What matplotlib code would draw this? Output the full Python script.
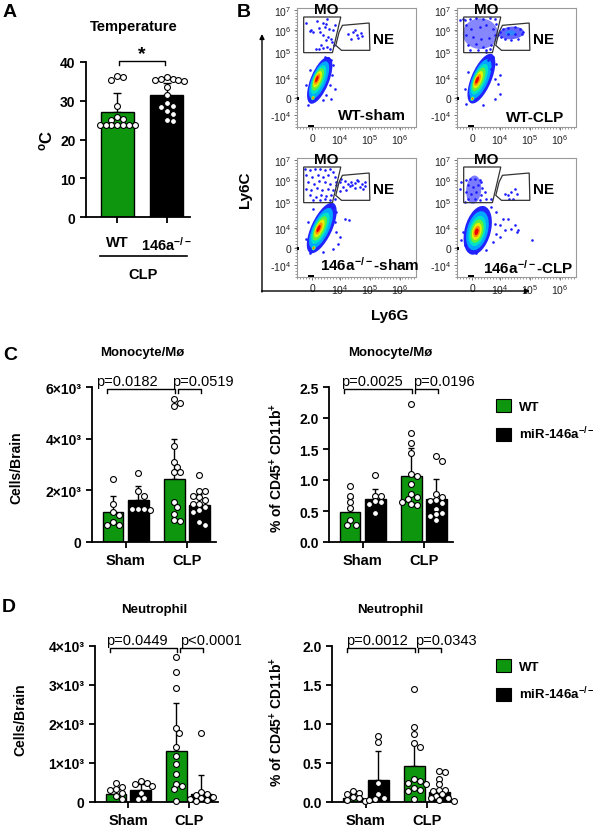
import numpy as np
import matplotlib
matplotlib.use("Agg")
import matplotlib.pyplot as plt
from matplotlib.patches import Ellipse, Polygon
from matplotlib.ticker import MultipleLocator

plt.rcParams['font.family'] = ['Liberation Sans', 'DejaVu Sans']
plt.rcParams['mathtext.fontset'] = 'custom'
plt.rcParams['mathtext.rm'] = 'Liberation Sans'
plt.rcParams['mathtext.bf'] = 'Liberation Sans:bold'
plt.rcParams['mathtext.it'] = 'Liberation Sans:italic'

W, H = 600, 829
GREEN = '#0f960f'
KO = '146a$^{\\mathbf{-/-}}$'

# ---------------- data: A, temperature after CLP
temp_groups = ['WT', KO]
temp_mean = [27.0, 31.4]
temp_sd = [4.9, 3.1]
temp_wt = [36.3, 36.2, 35.4, 28.7, 25.7, 25.4, 25.1, 23.8, 23.7, 23.7, 23.7, 23.7, 23.7, 23.8]
temp_ko = [36.2, 35.6, 35.6, 35.3, 35.3, 35.1, 33.5, 31.5, 29.5, 28.7, 28.5, 27.4, 26.6, 25.0, 24.8]

# ---------------- data: C/D, order = Sham WT, Sham KO, CLP WT, CLP KO
groups = ['Sham', 'CLP']
mono_cells_mean = [1150, 1630, 2450, 1440]
mono_cells_sd = [630, 520, 1520, 420]
mono_cells_pts = [
    [2430, 1480, 1160, 1030, 770, 670, 650],
    [2680, 1960, 1800, 1290, 1290, 1290, 1220],
    [5550, 5400, 5250, 3700, 3100, 2900, 2700, 2700, 1550, 1350, 1100, 850, 820],
    [2580, 1970, 1960, 1800, 1740, 1610, 1480, 1480, 1350, 1220, 1160, 770, 650],
]
mono_cells_p = ['p=0.0182', 'p=0.0519']

mono_pct_mean = [0.49, 0.69, 1.07, 0.70]
mono_pct_sd = [0.22, 0.17, 0.45, 0.31]
mono_pct_pts = [
    [0.91, 0.75, 0.65, 0.55, 0.35, 0.28, 0.27],
    [1.08, 0.75, 0.74, 0.66, 0.65, 0.62, 0.47],
    [2.22, 1.76, 1.59, 1.44, 1.09, 1.07, 0.94, 0.78, 0.72, 0.70, 0.65, 0.62, 0.60],
    [1.38, 1.31, 0.78, 0.72, 0.68, 0.66, 0.63, 0.54, 0.47, 0.45, 0.42, 0.36],
]
mono_pct_p = ['p=0.0025', 'p=0.0196']

neut_cells_mean = [200, 310, 1300, 210]
neut_cells_sd = [130, 160, 1230, 480]
neut_cells_pts = [
    [480, 390, 340, 300, 240, 150, 70],
    [540, 500, 455, 420, 240, 110, 85],
    [3720, 3330, 2920, 1890, 1770, 1400, 1180, 970, 730, 450, 410, 330, 30],
    [1770, 250, 200, 170, 130, 100, 70, 40, 30],
]
neut_cells_p = ['p=0.0449', 'p<0.0001']

neut_pct_mean = [0.05, 0.28, 0.46, 0.13]
neut_pct_sd = [0.05, 0.37, 0.28, 0.12]
neut_pct_pts = [
    [0.14, 0.12, 0.10, 0.07, 0.05, 0.03, 0.01],
    [0.84, 0.77, 0.24, 0.10, 0.05, 0.04, 0.03],
    [1.45, 0.96, 0.87, 0.76, 0.71, 0.29, 0.27, 0.25, 0.23, 0.18, 0.15, 0.14, 0.04],
    [0.40, 0.39, 0.30, 0.23, 0.16, 0.16, 0.14, 0.10, 0.08, 0.05, 0.05, 0.02, 0.01],
]
neut_pct_p = ['p=0.0012', 'p=0.0343']

legend_labels = ['WT', 'miR-146a$^{\\mathbf{-/-}}$']

# ---------------- data: B, flow plots in display channels (Ly6G, Ly6C)
ly6g_ticks = [46, 128, 218, 308]
ly6g_labels = ['0', '10$^{4}$', '10$^{5}$', '10$^{6}$']
ly6c_ticks = [35, 87, 147, 225, 290, 350]
ly6c_labels = ['-10$^{4}$', '0', '10$^{4}$', '10$^{5}$', '10$^{6}$', '10$^{7}$']
gate_mo = [(20, 330), (131, 330), (106, 223), (20, 223)]
gate_ne = [(136, 305), (216, 312), (218, 230), (133, 230), (116, 245), (126, 285)]
edge_x = [36, 40, 44, 48]
edge_y = [84, 88]

# blobs: centre x, centre y, length, width, angle, core x, core y, first layer, last layer, alpha
wt_sham_blobs = [(68, 140, 150, 55, 68, 58, 145, 0, 6, 1), (48, 88, 24, 18, 60, 48, 87, 2, 6, 1)]
wt_sham_x = [26, 43, 61, 78, 86, 90, 83, 96, 108, 113, 48, 70, 78, 93, 103, 88, 106, 66, 78, 90, 98, 56, 73,
             111, 40, 66, 153, 168, 178, 190, 183, 193, 163, 173, 103, 108, 106, 98, 113, 88, 103, 78, 33, 28,
             38, 93, 83]
wt_sham_y = [313, 290, 317, 313, 310, 323, 300, 295, 290, 305, 285, 285, 275, 270, 265, 260, 255, 235, 237,
             240, 235, 233, 245, 245, 287, 297, 280, 285, 277, 282, 267, 273, 265, 290, 200, 185, 155, 125,
             115, 95, 85, 80, 65, 125, 170, 207, 210]

wt_clp_blobs = [(73, 145, 160, 60, 67, 58, 140, 0, 6, 1), (46, 85, 24, 18, 60, 46, 85, 2, 6, 1),
                (70, 280, 105, 92, 0, 70, 280, 0, 0, 0.55), (163, 282, 75, 38, 5, 163, 282, 0, 0, 0.7),
                (160, 282, 40, 20, 5, 160, 282, 1, 1, 0.5)]
wt_clp_x = [23, 38, 58, 78, 98, 113, 118, 28, 43, 68, 88, 108, 26, 48, 73, 96, 113, 33, 58, 78, 103, 38, 63,
            88, 18, 8, 128, 138, 153, 173, 188, 193, 183, 163, 143, 133, 123, 153, 173, 198, 98, 88, 108,
            118, 128, 123, 128, 113, 103, 78, 28, 23, 33, 93, 113]
wt_clp_y = [320, 325, 327, 325, 327, 323, 310, 305, 295, 300, 305, 295, 275, 270, 265, 267, 275, 245, 250,
            240, 245, 230, 230, 230, 325, 320, 285, 295, 297, 300, 295, 280, 265, 260, 265, 270, 275, 280,
            280, 285, 235, 225, 210, 190, 155, 130, 100, 85, 175, 67, 70, 115, 165, 200, 145]

ko_sham_blobs = [(74, 147, 165, 62, 65, 63, 145, 0, 6, 1), (50, 87, 24, 18, 60, 50, 87, 2, 6, 1)]
ko_sham_x = [23, 38, 53, 68, 83, 98, 108, 28, 46, 63, 78, 93, 113, 33, 50, 66, 83, 98, 118, 26, 43, 60, 76,
             93, 108, 38, 56, 73, 88, 103, 48, 68, 83, 98, 113, 128, 143, 153, 163, 173, 183, 193, 203, 138,
             158, 173, 188, 203, 148, 128, 178, 166, 196, 133, 118, 108, 118, 113, 118, 123, 108, 78, 38,
             26, 33, 48, 143, 156, 128, 98]
ko_sham_y = [325, 320, 325, 323, 320, 323, 315, 305, 300, 307, 300, 305, 300, 285, 280, 287, 285, 280, 285,
             265, 260, 267, 260, 265, 260, 245, 240, 247, 243, 245, 230, 230, 235, 230, 235, 285, 287, 280,
             285, 283, 287, 280, 285, 270, 273, 267, 270, 273, 260, 257, 290, 277, 265, 295, 275, 210, 195,
             165, 135, 100, 85, 75, 73, 115, 165, 205, 173, 170, 120, 215]

ko_clp_blobs = [(62, 140, 150, 78, 75, 58, 135, 0, 6, 1), (50, 262, 85, 45, 85, 50, 262, 0, 0, 0.6)]
ko_clp_x = [28, 38, 53, 68, 73, 33, 48, 63, 76, 28, 43, 58, 73, 33, 53, 68, 88, 103, 8, 13, 83, 23, 143,
            153, 163, 173, 178, 168, 156, 128, 138, 153, 163, 178, 173, 183, 223, 118, 128, 108, 143, 118,
            103, 18, 13, 23, 88, 58, 113]
ko_clp_y = [290, 295, 293, 290, 285, 275, 270, 275, 267, 255, 250, 255, 247, 235, 235, 230, 235, 235, 265,
            285, 255, 225, 250, 245, 255, 265, 250, 235, 235, 155, 175, 173, 145, 135, 155, 140, 110, 130,
            120, 105, 140, 195, 210, 135, 110, 95, 80, 73, 160]

LAYERS = [(1.0, '#2323ff'), (0.8, '#00a6ff'), (0.62, '#00e2c8'), (0.48, '#5ef03c'),
          (0.35, '#e6f000'), (0.24, '#ff9000'), (0.14, '#ee0000')]


def px_rect(l, t, r, b):
    return [l / W, 1 - b / H, (r - l) / W, (b - t) / H]


def swarm_x(vals, xc, sx, sy, d=5.8):
    placed, out = [], []
    for v in vals:
        py = v * sy
        off = 0.0
        for k in range(40):
            cand = ((k + 1) // 2) * d * 0.5 * (1 if k % 2 else -1)
            if all((cand - ox) ** 2 + (py - oy) ** 2 >= (d * 0.92) ** 2 for ox, oy in placed):
                off = cand
                break
        placed.append((off, py))
        out.append(xc + off / sx)
    return out


def style_bar_axes(ax):
    for s in ['top', 'right']:
        ax.spines[s].set_visible(False)
    for s in ['left', 'bottom']:
        ax.spines[s].set_linewidth(1.3)
    ax.tick_params(direction='out', length=4, width=1.3, labelsize=10)


def bracket(ax, x0, x1, y, h):
    ax.plot([x0, x0, x1, x1], [y - h, y, y, y - h], color='k', lw=1, clip_on=False)


fig = plt.figure(figsize=(W / 100, H / 100), dpi=100)

# ---------------- panel A
rect = (86, 63, 190, 218)
axA = fig.add_axes(px_rect(*rect))
xlim = (-0.63, 1.47)
axA.set_xlim(*xlim)
axA.set_ylim(0, 40)
axA.bar([0, 1], temp_mean, width=0.66, color=[GREEN, 'black'], edgecolor='black', lw=1, zorder=2)
for i in range(2):
    axA.errorbar(i, temp_mean[i], yerr=[[0], [temp_sd[i]]], fmt='none', ecolor='black',
                 elinewidth=1, capsize=3, capthick=1, zorder=1.5)
sx = (rect[2] - rect[0]) / (xlim[1] - xlim[0])
sy = (rect[3] - rect[1]) / 40
for i, pts in enumerate([temp_wt, temp_ko]):
    axA.scatter(swarm_x(pts, i, sx, sy), pts, s=18, facecolor='white', edgecolor='black',
                lw=0.8, zorder=4, clip_on=False)
style_bar_axes(axA)
axA.set_yticks([0, 10, 20, 30, 40], ['0', '10', '20', '30', '40'], fontweight='bold')
axA.set_xticks([0, 1], temp_groups, fontweight='bold', fontsize=10.5)
axA.tick_params(axis='x', pad=9)
bracket(axA, 0.03, 0.97, 40.3, 1.2)
axA.annotate('*', (0.5, 40.3), xytext=(0, -1), textcoords='offset points', ha='center', va='bottom',
             fontsize=14, fontweight='bold', annotation_clip=False)


# ---------------- panels C and D
def bar_panel(rect, ymax, yticks, ylabels, means, sds, pts, ptexts, pxs):
    ax = fig.add_axes(px_rect(*rect))
    xlim = (-0.55, 1.48)
    ax.set_xlim(*xlim)
    ax.set_ylim(0, ymax)
    xs = [-0.205, 0.205, 0.795, 1.205]
    cols = [GREEN, 'black', GREEN, 'black']
    ax.bar(xs, means, width=0.34, color=cols, edgecolor='black', lw=1, zorder=2)
    for x, m, s in zip(xs, means, sds):
        ax.errorbar(x, m, yerr=[[0], [s]], fmt='none', ecolor='black', elinewidth=1,
                    capsize=2.5, capthick=1, zorder=1.5)
    sx = (rect[2] - rect[0]) / (xlim[1] - xlim[0])
    sy = (rect[3] - rect[1]) / ymax
    for x, p in zip(xs, pts):
        ax.scatter(swarm_x(p, x, sx, sy), p, s=18, facecolor='white', edgecolor='black',
                   lw=0.8, zorder=4, clip_on=False)
    style_bar_axes(ax)
    ax.set_yticks(yticks, ylabels, fontweight='bold')
    ax.set_xticks([0, 1], groups, fontweight='bold', fontsize=10.5)
    ax.tick_params(axis='x', pad=4)
    yb = ymax * 0.99
    bracket(ax, -0.31, 0.81, yb, ymax * 0.03)
    bracket(ax, 0.86, 1.23, yb, ymax * 0.03)
    for t, x in zip(ptexts, pxs):
        ax.annotate(t, (x, yb), xytext=(0, 0.5), textcoords='offset points', ha='center',
                    va='bottom', fontsize=10.5, annotation_clip=False)
    return ax


axC1 = bar_panel((92, 388, 216, 543), 6000, [0, 2000, 4000, 6000], ['0', '2×10³', '4×10³', '6×10³'],
                 mono_cells_mean, mono_cells_sd, mono_cells_pts, mono_cells_p, [0.02, 1.26])
axC2 = bar_panel((329, 388, 453, 543), 2.5, [0, 0.5, 1.0, 1.5, 2.0, 2.5],
                 ['0.0', '0.5', '1.0', '1.5', '2.0', '2.5'],
                 mono_pct_mean, mono_pct_sd, mono_pct_pts, mono_pct_p, [0.16, 1.33])
axD1 = bar_panel((95, 647, 218, 803), 4000, [0, 1000, 2000, 3000, 4000],
                 ['0', '1×10³', '2×10³', '3×10³', '4×10³'],
                 neut_cells_mean, neut_cells_sd, neut_cells_pts, neut_cells_p, [0.14, 1.36])
axD2 = bar_panel((332, 647, 456, 803), 2.0, [0, 0.5, 1.0, 1.5, 2.0], ['0.0', '0.5', '1.0', '1.5', '2.0'],
                 neut_pct_mean, neut_pct_sd, neut_pct_pts, neut_pct_p, [0.18, 1.31])

for ax, top in [(axC2, 395), (axD2, 655)]:
    handles = [plt.Rectangle((0, 0), 1, 1, facecolor=c, edgecolor='black', lw=0.8) for c in [GREEN, 'black']]
    fig.legend(handles, legend_labels, loc='upper left', bbox_to_anchor=(489 / W, 1 - (top - 2) / H),
               frameon=False, borderpad=0, handlelength=1.15, handleheight=1.15, handletextpad=0.65,
               labelspacing=0.95, prop={'weight': 'bold', 'size': 9.5})


# ---------------- panel B
def flow_panel(rect, blobs, ex, ey, label, label_xy):
    ax = fig.add_axes(px_rect(*rect))
    ax.set_xlim(0, 356)
    ax.set_ylim(0, 357)
    for cx, cy, L, Wd, ang, kx, ky, first, last, al in blobs:
        for f, col in LAYERS[first:last + 1]:
            c = (kx + (cx - kx) * f, ky + (cy - ky) * f)
            ax.add_patch(Ellipse(c, L * f, Wd * f, angle=ang, facecolor=col, edgecolor='none',
                                 alpha=al, zorder=1))
    ax.scatter(ex, ey, s=3.5, color='#1a1aff', lw=0, zorder=2)
    ax.scatter(edge_x, [2] * len(edge_x), s=4, marker='s', color='k', lw=0, zorder=3, clip_on=False)
    ax.scatter([2] * len(edge_y), edge_y, s=4, marker='s', color='k', lw=0, zorder=3, clip_on=False)
    ax.add_patch(Polygon(gate_mo, closed=True, fill=False, edgecolor='#333333', lw=0.9, zorder=4))
    ax.add_patch(Polygon(gate_ne, closed=True, fill=False, edgecolor='#333333', lw=0.9, zorder=4))
    ax.text(88, 354, 'MO', ha='center', va='center', fontsize=11, fontweight='bold', zorder=5)
    ax.text(258, 265, 'NE', ha='center', va='center', fontsize=11, fontweight='bold', zorder=5)
    ax.text(label_xy[0], label_xy[1], label, ha='center', va='center', fontsize=11,
            fontweight='bold', zorder=5)
    for s in ax.spines.values():
        s.set_color('#9a9a9a')
        s.set_linewidth(0.8)
    ax.set_xticks(ly6g_ticks, ly6g_labels)
    ax.set_yticks(ly6c_ticks, ly6c_labels)
    ax.xaxis.set_minor_locator(MultipleLocator(9))
    ax.yaxis.set_minor_locator(MultipleLocator(9))
    ax.tick_params(which='both', direction='out', color='#777777', labelsize=7.5, labelcolor='#222222',
                   pad=1.5, top=False, right=False)
    ax.tick_params(which='major', length=2.5, width=0.7)
    ax.tick_params(which='minor', length=1.3, width=0.5)
    return ax


flow_panel((297, 9, 416, 128), wt_sham_blobs, wt_sham_x, wt_sham_y, 'WT-sham', (223, 35))
flow_panel((457, 9, 576, 128), wt_clp_blobs, wt_clp_x, wt_clp_y, 'WT-CLP', (233, 30))
flow_panel((297, 159, 416, 278), ko_sham_blobs, ko_sham_x, ko_sham_y, KO + '-sham', (218, 40))
flow_panel((457, 159, 576, 278), ko_clp_blobs, ko_clp_x, ko_clp_y, KO + '-CLP', (213, 30))

# ---------------- overlay for labels and arrows (pixel coordinates)
ov = fig.add_axes([0, 0, 1, 1])
ov.set_xlim(0, W)
ov.set_ylim(H, 0)
ov.axis('off')
ov.patch.set_alpha(0)

bold = dict(fontweight='bold', ha='center', va='center')
for letter, x, y in [('A', 10, 12), ('B', 244, 12), ('C', 10, 355), ('D', 9, 607)]:
    ov.text(x, y, letter, fontsize=14, **bold)
ov.text(134, 27, 'Temperature', fontsize=10.5, **bold)
ov.text(46, 140, '$^{\\mathbf{o}}$C', fontsize=12, rotation=90, **bold)
ov.plot([100, 187], [257, 257], color='k', lw=1.2)
ov.text(143, 275, 'CLP', fontsize=10.5, **bold)

ov.annotate('', xy=(262, 35), xytext=(262, 293),
            arrowprops=dict(arrowstyle='-|>', lw=1, color='k', mutation_scale=7, shrinkA=0, shrinkB=0))
ov.annotate('', xy=(530, 292), xytext=(261.5, 292),
            arrowprops=dict(arrowstyle='-|>', lw=1, color='k', mutation_scale=7, shrinkA=0, shrinkB=0))
ov.text(245, 190, 'Ly6C', fontsize=11, rotation=90, **bold)
ov.text(390, 316, 'Ly6G', fontsize=11, **bold)

ov.text(142, 353, 'Monocyte/Mø', fontsize=9.5, **bold)
ov.text(390, 353, 'Monocyte/Mø', fontsize=9.5, **bold)
ov.text(154, 610, 'Neutrophil', fontsize=9.5, **bold)
ov.text(390, 610, 'Neutrophil', fontsize=9.5, **bold)
pct = '% of CD45$^{\\mathbf{+}}$ CD11b$^{\\mathbf{+}}$'
ov.text(16, 468, 'Cells/Brain', fontsize=10, rotation=90, **bold)
ov.text(277, 468, pct, fontsize=10, rotation=90, **bold)
ov.text(20, 720, 'Cells/Brain', fontsize=10, rotation=90, **bold)
ov.text(277, 722, pct, fontsize=10, rotation=90, **bold)

fig.savefig('out.png', dpi=100)
